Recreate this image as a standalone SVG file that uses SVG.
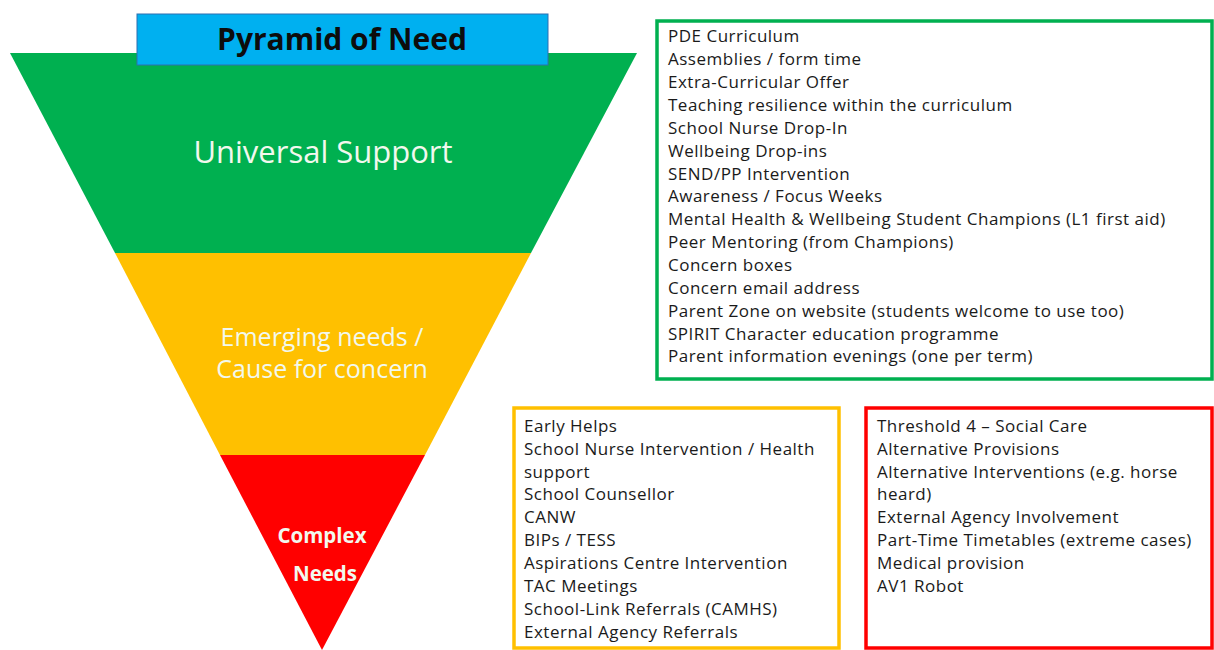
<svg xmlns="http://www.w3.org/2000/svg" width="1214" height="650" viewBox="0 0 1214 650">
<style>
.lbl{font-family:"Open Sans","Liberation Sans",sans-serif;fill:#f2f8ee;text-anchor:middle}
.item{font-family:"Open Sans","Liberation Sans",sans-serif;font-size:17px;letter-spacing:0.5px;fill:#1a1a1a}
.box{fill:#ffffff;stroke-width:3.5}
</style>
<rect width="1214" height="650" fill="#ffffff"/>
<g id="tier-universal">
<polygon points="10,53 637,53 531,253 115,253" fill="#00b050"/>
<text class="lbl" x="323" y="163" font-size="31">Universal Support</text>
</g>
<g id="tier-emerging">
<polygon points="115,253 531,253 425,455 220,455" fill="#ffc000"/>
<text class="lbl" x="322" y="346" font-size="25">Emerging needs /</text>
<text class="lbl" x="322" y="378" font-size="25">Cause for concern</text>
</g>
<g id="tier-complex">
<polygon points="220,455 425,455 322,650" fill="#ff0000"/>
<text class="lbl" x="322" y="543" font-size="20.5" font-weight="bold" fill="#ffffff">Complex</text>
<text class="lbl" x="325" y="581" font-size="20.5" font-weight="bold" fill="#ffffff">Needs</text>
</g>
<g id="title">
<rect x="137" y="14" width="411" height="51" fill="#00b0f0" stroke="#2f6fb0" stroke-width="1"/>
<text x="342" y="50" font-family="'Open Sans','Liberation Sans',sans-serif" font-size="30" font-weight="bold" fill="#0d0d0d" text-anchor="middle">Pyramid of Need</text>
</g>
<g id="universal-list">
<rect class="box" x="657" y="21" width="555" height="358" stroke="#00b050"/>
<text class="item" x="668" y="42">PDE Curriculum</text>
<text class="item" x="668" y="65">Assemblies / form time</text>
<text class="item" x="668" y="88">Extra-Curricular Offer</text>
<text class="item" x="668" y="111">Teaching resilience within the curriculum</text>
<text class="item" x="668" y="134">School Nurse Drop-In</text>
<text class="item" x="668" y="157">Wellbeing Drop-ins</text>
<text class="item" x="668" y="180">SEND/PP Intervention</text>
<text class="item" x="668" y="202">Awareness / Focus Weeks</text>
<text class="item" x="668" y="225">Mental Health &amp; Wellbeing Student Champions (L1 first aid)</text>
<text class="item" x="668" y="248">Peer Mentoring (from Champions)</text>
<text class="item" x="668" y="271">Concern boxes</text>
<text class="item" x="668" y="294">Concern email address</text>
<text class="item" x="668" y="317">Parent Zone on website (students welcome to use too)</text>
<text class="item" x="668" y="340">SPIRIT Character education programme</text>
<text class="item" x="668" y="362">Parent information evenings (one per term)</text>
</g>
<g id="emerging-list">
<rect class="box" x="514" y="408" width="325" height="240" stroke="#ffc000"/>
<text class="item" x="524" y="432">Early Helps</text>
<text class="item" x="524" y="455">School Nurse Intervention / Health</text>
<text class="item" x="524" y="478">support</text>
<text class="item" x="524" y="500">School Counsellor</text>
<text class="item" x="524" y="523">CANW</text>
<text class="item" x="524" y="546">BIPs / TESS</text>
<text class="item" x="524" y="569">Aspirations Centre Intervention</text>
<text class="item" x="524" y="592">TAC Meetings</text>
<text class="item" x="524" y="615">School-Link Referrals (CAMHS)</text>
<text class="item" x="524" y="638">External Agency Referrals</text>
</g>
<g id="complex-list">
<rect class="box" x="866" y="408" width="346" height="240" stroke="#ff0000"/>
<text class="item" x="877" y="432">Threshold 4 – Social Care</text>
<text class="item" x="877" y="455">Alternative Provisions</text>
<text class="item" x="877" y="478">Alternative Interventions (e.g. horse</text>
<text class="item" x="877" y="500">heard)</text>
<text class="item" x="877" y="523">External Agency Involvement</text>
<text class="item" x="877" y="546">Part-Time Timetables (extreme cases)</text>
<text class="item" x="877" y="569">Medical provision</text>
<text class="item" x="877" y="592">AV1 Robot</text>
</g>
<g id="connectors"></g>
</svg>
